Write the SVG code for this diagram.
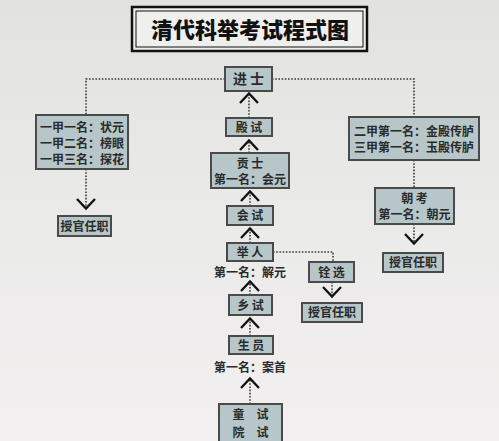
<svg xmlns="http://www.w3.org/2000/svg" width="499" height="441" viewBox="0 0 499 441">
<style>
.box{fill:#b7c7c9;stroke:#4a4a4a;stroke-width:2}
.t{font-family:"Noto Sans CJK SC","Noto Sans",sans-serif;font-weight:700;fill:#2a2a2a;text-anchor:middle}
.s14{font-size:14px}
.s12{font-size:12px}
.dot{fill:none;stroke:#3a3a3a;stroke-width:1.6;stroke-dasharray:1.6 1.6}
</style>
<defs>
<linearGradient id="bg" x1="0" y1="0" x2="0" y2="1">
<stop offset="0" stop-color="#e2e2e0"/>
<stop offset="0.55" stop-color="#ebebea"/>
<stop offset="1" stop-color="#f4eff0"/>
</linearGradient>
<marker id="chev" markerUnits="userSpaceOnUse" markerWidth="24" markerHeight="24" viewBox="0 -12 24 24" refX="12" refY="0" orient="auto" overflow="visible">
<path d="M2,-9 L11.5,0 L2,9" fill="none" stroke="#111" stroke-width="2.3"/>
</marker>
</defs>
<rect width="499" height="441" fill="url(#bg)"/>

<g id="title">
<rect x="132" y="7" width="235" height="44" fill="#efefee" stroke="#111" stroke-width="2.5"/>
<rect x="136" y="11" width="227" height="36" fill="none" stroke="#111" stroke-width="1"/>
<text x="250" y="38" font-family="'Noto Sans CJK SC',sans-serif" font-weight="900" font-size="22" fill="#111" text-anchor="middle">清代科举考试程式图</text>
</g>

<g id="connectors">
<polyline class="dot" points="225,79 86,79 86,115"/>
<line class="dot" x1="86" y1="169" x2="86" y2="209" marker-end="url(#chev)"/>
<polyline class="dot" points="272,79 414,79 414,117"/>
<line class="dot" x1="414" y1="160" x2="414" y2="188"/>
<line class="dot" x1="414" y1="224" x2="414" y2="244" marker-end="url(#chev)"/>
<line class="dot" x1="249" y1="118" x2="249" y2="93" marker-end="url(#chev)"/>
<line class="dot" x1="249" y1="153" x2="249" y2="140" marker-end="url(#chev)"/>
<line class="dot" x1="250" y1="206" x2="250" y2="191" marker-end="url(#chev)"/>
<line class="dot" x1="250" y1="243" x2="250" y2="228" marker-end="url(#chev)"/>
<line class="dot" x1="250" y1="295" x2="250" y2="281" marker-end="url(#chev)"/>
<line class="dot" x1="250" y1="336" x2="250" y2="318" marker-end="url(#chev)"/>
<line class="dot" x1="250" y1="404" x2="250" y2="378" marker-end="url(#chev)"/>
<polyline class="dot" points="273,252 333,252 333,262"/>
<line class="dot" x1="332" y1="282" x2="332" y2="297" marker-end="url(#chev)"/>
</g>

<g id="jinshi">
<rect class="box" x="225" y="67" width="47" height="24"/>
<text class="t s14" x="248.5" y="84">进 士</text>
</g>
<g id="dianshi">
<rect class="box" x="226" y="118" width="46" height="18"/>
<text class="t s12" x="249" y="132">殿 试</text>
</g>
<g id="gongshi">
<rect class="box" x="211" y="153" width="78" height="35"/>
<text class="t s12" x="250" y="168">贡 士</text>
<text class="t s12" x="250" y="184">第一名：会元</text>
</g>
<g id="huishi">
<rect class="box" x="227" y="206" width="46" height="19"/>
<text class="t s12" x="250" y="220">会 试</text>
</g>
<g id="juren">
<rect class="box" x="227" y="243" width="46" height="18"/>
<text class="t s12" x="250" y="257">举 人</text>
<text class="t s12" x="250" y="277">第一名：解元</text>
</g>
<g id="xiangshi">
<rect class="box" x="229" y="295" width="43" height="20"/>
<text class="t s12" x="250.5" y="310">乡 试</text>
</g>
<g id="shengyuan">
<rect class="box" x="229" y="336" width="44" height="18"/>
<text class="t s12" x="251" y="350">生 员</text>
<text class="t s12" x="250" y="372">第一名：案首</text>
</g>
<g id="tongshi">
<rect class="box" x="219" y="404" width="63" height="45"/>
<text class="t s12" x="250.5" y="419">童　试</text>
<text class="t s12" x="250.5" y="437">院　试</text>
</g>
<g id="left-top">
<rect class="box" x="36" y="115" width="92" height="54"/>
<text class="t s12" x="82" y="132">一甲一名：状元</text>
<text class="t s12" x="82" y="148">一甲二名：榜眼</text>
<text class="t s12" x="82" y="164">一甲三名：探花</text>
</g>
<g id="left-office">
<rect class="box" x="58" y="216" width="53" height="20"/>
<text class="t s12" x="84.5" y="231">授官任职</text>
</g>
<g id="right-top">
<rect class="box" x="349" y="117" width="130" height="43"/>
<text class="t s12" x="414" y="136">二甲第一名：金殿传胪</text>
<text class="t s12" x="414" y="152">三甲第一名：玉殿传胪</text>
</g>
<g id="chaokao">
<rect class="box" x="375" y="188" width="79" height="36"/>
<text class="t s12" x="414.5" y="203">朝 考</text>
<text class="t s12" x="414.5" y="219">第一名：朝元</text>
</g>
<g id="right-office">
<rect class="box" x="383" y="253" width="60" height="19"/>
<text class="t s12" x="413" y="267">授官任职</text>
</g>
<g id="quanxuan">
<rect class="box" x="309" y="262" width="45" height="20"/>
<text class="t s12" x="331.5" y="277">铨 选</text>
</g>
<g id="mid-office">
<rect class="box" x="302" y="303" width="60" height="19"/>
<text class="t s12" x="332" y="317">授官任职</text>
</g>
</svg>
